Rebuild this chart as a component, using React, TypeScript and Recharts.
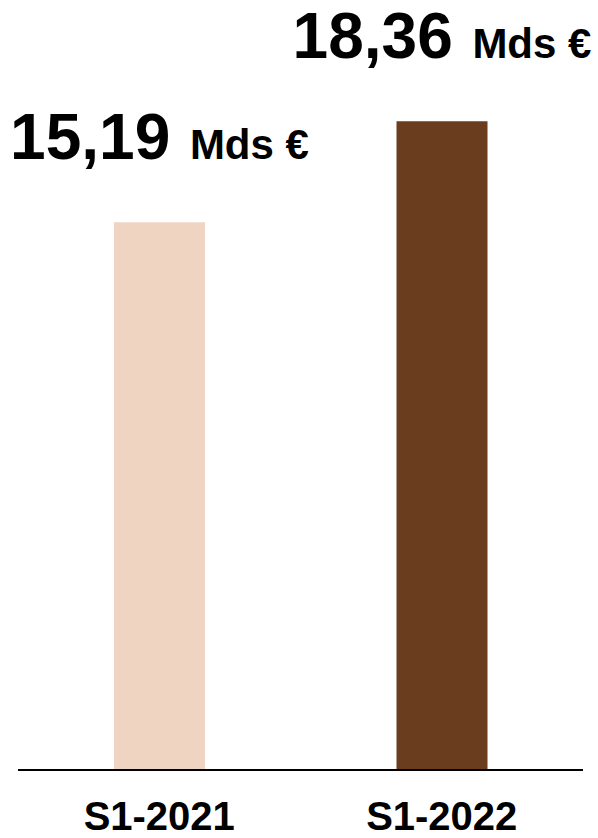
import { Bar, BarChart, Cell, LabelList, XAxis, YAxis } from "recharts";

// Semestres et chiffre d'affaires (Mds €)
const PERIODS = ["S1-2021", "S1-2022"];
const REVENUE = [15.19, 18.36];
const LABELS = ["15,19", "18,36"];
const BAR_COLORS = ["#EFD4C2", "#6A3D1E"];
// the source chart's value axis does not start at zero
const AXIS_FLOOR = -2;
const AXIS_TOP = 20;

const FONT = '"Liberation Sans", Arial, sans-serif';

const data = PERIODS.map((period, i) => ({
  period,
  label: LABELS[i],
  range: [AXIS_FLOOR, REVENUE[i]],
}));

function ValueLabel(props: any) {
  const { x, y, width, index } = props;
  const cx = Number(x) + Number(width) / 2;
  return (
    <text
      x={cx}
      y={Number(y) - 63}
      textAnchor="middle"
      fontFamily={FONT}
      fontWeight="bold"
      fill="#000"
    >
      <tspan fontSize={64}>{LABELS[index]}</tspan>
      <tspan fontSize={42} dx={8}>
        {" Mds €"}
      </tspan>
    </text>
  );
}

function PeriodTick(props: any) {
  const { x, y, payload } = props;
  return (
    <text
      x={x}
      y={Number(y) + 60}
      textAnchor="middle"
      fontFamily={FONT}
      fontWeight="bold"
      fontSize={40}
      fill="#000"
    >
      {payload.value}
    </text>
  );
}

export default function App() {
  return (
    <div style={{ position: "absolute", left: 0, top: 0, background: "#fff" }}>
      <BarChart
        width={598}
        height={838}
        data={data}
        margin={{ top: 69, right: 15, bottom: 0, left: 18 }}
        barSize={91}
      >
        <XAxis
          dataKey="period"
          axisLine={{ stroke: "#000", strokeWidth: 2 }}
          tickLine={false}
          tickSize={0}
          tickMargin={0}
          tick={<PeriodTick />}
          height={68}
          interval={0}
        />
        <YAxis hide domain={[AXIS_FLOOR, AXIS_TOP]} allowDataOverflow />
        <Bar dataKey="range" isAnimationActive={false}>
          {data.map((d, i) => (
            <Cell key={d.period} fill={BAR_COLORS[i]} />
          ))}
          <LabelList dataKey="label" content={<ValueLabel />} />
        </Bar>
      </BarChart>
    </div>
  );
}
